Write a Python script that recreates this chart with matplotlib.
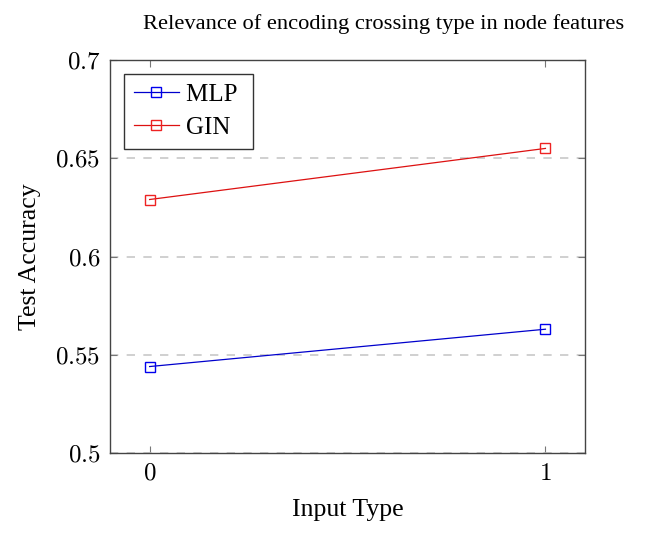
import matplotlib.pyplot as plt

plt.rcParams['font.family'] = ['Liberation Serif', 'DejaVu Serif']
plt.rcParams['mathtext.fontset'] = 'cm'

input_type = [0, 1]
mlp_acc = [0.544, 0.563]
gin_acc = [0.629, 0.655]
y_ticks = [0.5, 0.55, 0.6, 0.65, 0.7]
y_labels = ['0.5', '0.55', '0.6', '0.65', '0.7']

fig = plt.figure(figsize=(6.48, 5.4), dpi=100)
ax = fig.add_axes([0.1698, 0.1611, 0.733, 0.7278])

ax.plot(input_type, mlp_acc, color='#0000cc', lw=0.9, marker='s', ms=7.5,
        mfc='none', mec='#0000ee', mew=1.0, label='MLP ')
ax.plot(input_type, gin_acc, color='#dd1111', lw=0.9, marker='s', ms=7.5,
        mfc='none', mec='#ee2222', mew=1.0, label='GIN')

ax.set_xlim(-0.1, 1.1)
ax.set_ylim(0.5, 0.7)
ax.set_xticks(input_type)
ax.set_xticklabels(['$%d$' % v for v in input_type])
ax.set_yticks(y_ticks)
ax.set_yticklabels(['$%s$' % s for s in y_labels])
ax.yaxis.grid(True, color='#c8c8c8', ls=(0, (5, 5)), lw=1.2)
ax.set_axisbelow(True)
ax.tick_params(direction='in', length=5, color='#777777', labelsize=18,
               top=True, right=True, pad=7)
for s in ax.spines.values():
    s.set_color('#444444')
    s.set_linewidth(1.0)

ax.set_xlabel('Input Type', fontsize=18.5, labelpad=10)
ax.set_ylabel('Test Accuracy', fontsize=18.5, labelpad=10)
ax.set_title('Relevance of encoding crossing type in node features', fontsize=16.2,
             pad=22, x=0.577)

leg = ax.legend(loc='upper left', fontsize=18, frameon=True, fancybox=False,
                edgecolor='black', handlelength=1.8, handletextpad=0.3,
                borderpad=0.4, labelspacing=0.42, borderaxespad=0.55)
leg.get_frame().set_linewidth(1.0)

plt.savefig('out.png')
